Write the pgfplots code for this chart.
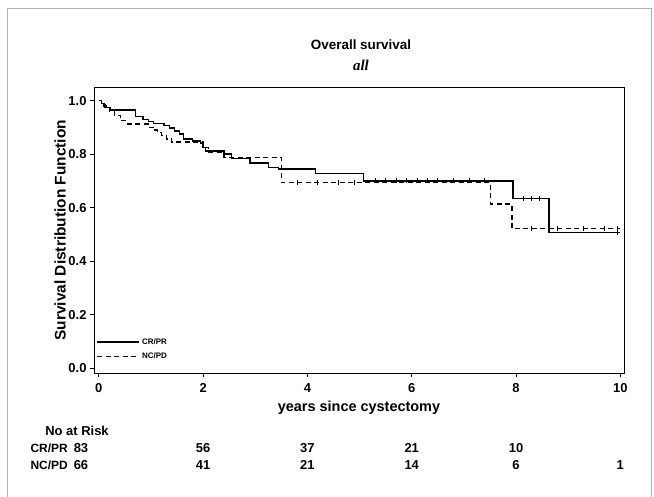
\documentclass[border=0pt]{standalone}
\usepackage{fontspec}
\setmainfont{Liberation Sans}
\newfontfamily\timesfont{Liberation Serif}
\usepackage{pgfplots}
\pgfplotsset{compat=1.18}
\pgfplotstableread{
t S
0    1.000
0.05 0.990
0.10 0.980
0.15 0.975
0.22 0.965
0.70 0.940
0.85 0.930
0.95 0.922
1.05 0.915
1.25 0.908
1.35 0.898
1.45 0.886
1.55 0.875
1.62 0.857
1.80 0.849
1.95 0.842
2.00 0.825
2.05 0.812
2.40 0.800
2.55 0.785
2.90 0.767
3.25 0.750
3.45 0.745
4.15 0.727
5.07 0.700
7.94 0.634
8.63 0.508
10.0 0.508
}\crpr
\pgfplotstableread{
t S
0    1.000
0.05 0.985
0.12 0.975
0.20 0.960
0.30 0.945
0.42 0.925
0.55 0.913
0.95 0.900
1.05 0.890
1.12 0.880
1.20 0.870
1.30 0.857
1.40 0.845
2.00 0.825
2.10 0.805
2.40 0.788
3.50 0.693
7.51 0.614
7.92 0.521
10.0 0.521
}\ncpd
\pgfplotstableread{
t S
5.3 0.700
5.5 0.700
5.7 0.700
5.9 0.700
6.1 0.700
6.3 0.700
6.5 0.700
6.8 0.700
7.1 0.700
7.4 0.700
8.15 0.634
8.30 0.634
8.45 0.634
9.95 0.508
}\crprcens
\pgfplotstableread{
t S
3.8 0.693
4.2 0.693
4.6 0.693
4.9 0.693
8.3 0.521
8.8 0.521
9.3 0.521
9.7 0.521
9.95 0.521
}\ncpdcens
\begin{document}
\begin{tikzpicture}[x=1bp,y=1bp]
\useasboundingbox (0,0) rectangle (654,497);
\draw[gray!60, line width=0.8bp] (7,0) -- (7,489) -- (651,489) -- (651,0);
\node[font=\fontsize{13.5}{16}\selectfont\bfseries] at (361,452) {Overall survival};
\node[font=\fontsize{15}{17}\selectfont\timesfont\bfseries\itshape] at (361,432) {all};
\begin{axis}[
  at={(94bp,124bp)}, anchor=south west, scale only axis,
  width=530bp, height=285.5bp,
  xmin=-0.092, xmax=10.07, ymin=-0.0176, ymax=1.049,
  axis line style={line width=0.9bp},
  xtick={0,2,...,10}, ytick={0,0.2,...,1.0},
  tick align=outside, xtick pos=left, ytick pos=left,
  major tick length=4bp,
  tick style={line width=0.8bp, black},
  /pgf/number format/assume math mode=true,
  yticklabel style={/pgf/number format/fixed, /pgf/number format/precision=1, /pgf/number format/fixed zerofill},
  xticklabel style={yshift=-3bp},
  ticklabel style={font=\fontsize{13}{15}\selectfont\bfseries},
  xlabel={years since cystectomy},
  ylabel={Survival Distribution Function},
  xlabel style={at={(axis description cs:0.5,-0.1226)}, anchor=center, font=\fontsize{14.5}{16}\selectfont\bfseries},
  ylabel style={at={(axis description cs:-0.064,0.5)}, anchor=center, font=\fontsize{15.5}{17}\selectfont\bfseries},
  legend style={at={(axis description cs:0.003,0.035)}, anchor=south west, draw=none, fill=none,
     font=\fontsize{8}{9}\selectfont\bfseries, row sep=3bp, inner sep=1bp},
  legend cell align=left,
  legend image code/.code={\draw[#1] (0bp,0bp) -- (42bp,0bp);},
  clip=false,
]
\addplot[const plot, black, line width=1.3bp] table[x=t,y=S] {\crpr};
\addlegendentry{CR/PR}
\addplot[const plot, black, line width=1.3bp, dash pattern=on 5bp off 3.5bp] table[x=t,y=S] {\ncpd};
\addlegendentry{NC/PD}
\addplot[only marks, mark=|, mark size=2.5bp, black, mark options={line width=0.8bp}, forget plot] table[x=t,y=S] {\crprcens};
\addplot[only marks, mark=|, mark size=2.5bp, black, mark options={line width=0.8bp}, forget plot] table[x=t,y=S] {\ncpdcens};
\end{axis}
\begin{scope}[font=\fontsize{13}{15}\selectfont\bfseries]
\node at (77,66) {No at Risk};
\node[anchor=west, font=\fontsize{12}{14}\selectfont\bfseries] at (27,49) {CR/PR};
\node[anchor=west, font=\fontsize{12}{14}\selectfont\bfseries] at (27,32) {NC/PD};
\node at (81,49) {83};
\node at (81,32) {66};
\node at (203,49) {56};
\node at (307.4,49) {37};
\node at (411.7,49) {21};
\node at (516,49) {10};
\node at (203,32) {41};
\node at (307.4,32) {21};
\node at (411.7,32) {14};
\node at (516,32) {6};
\node at (620.3,32) {1};
\end{scope}
\end{tikzpicture}
\end{document}
